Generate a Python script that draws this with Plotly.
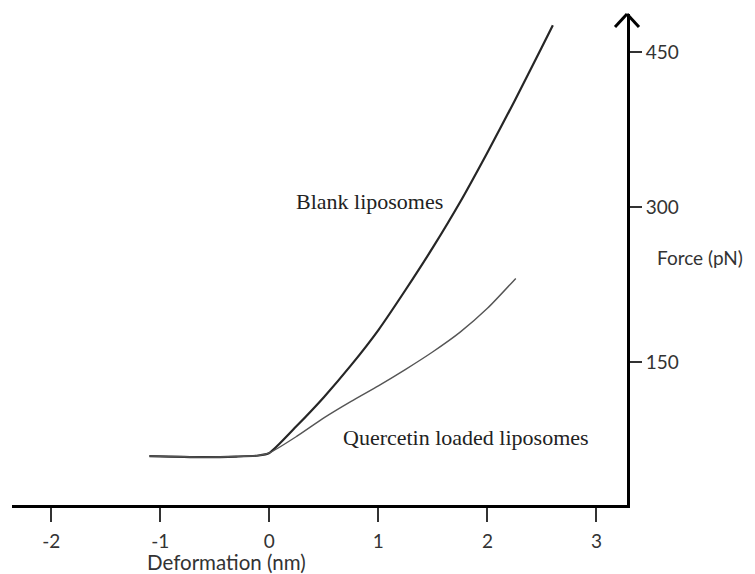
import plotly.graph_objects as go

# Data
blank_x = [-1.10, -0.62, -0.30, -0.10, 0.00, 0.25, 0.50, 0.75, 1.00, 1.25, 1.50, 1.75, 2.00, 2.25, 2.50, 2.60]
blank_y = [59, 58, 58.5, 59.5, 62, 88, 116, 147, 181, 220, 261, 305, 353, 403, 455, 476]

querc_x = [-1.10, -0.62, -0.30, -0.10, 0.00, 0.25, 0.50, 0.75, 1.00, 1.25, 1.50, 1.75, 2.00, 2.26]
querc_y = [59, 58, 58.5, 59.5, 62, 78, 96, 112, 127, 143, 160, 179, 202, 231]

x_ticks = [-2, -1, 0, 1, 2, 3]
y_ticks = [150, 300, 450]

SANS = "Lato"
SERIF = "Liberation Serif"

fig = go.Figure()
fig.add_trace(go.Scatter(x=blank_x, y=blank_y, mode="lines",
                         line=dict(color="#262626", width=2.2, shape="spline", smoothing=0.6),
                         showlegend=False))
fig.add_trace(go.Scatter(x=querc_x, y=querc_y, mode="lines",
                         line=dict(color="#555555", width=1.4, shape="spline", smoothing=0.6),
                         showlegend=False))

fig.update_layout(
    width=755, height=574,
    margin=dict(l=4, r=136, t=6, b=77),
    plot_bgcolor="white", paper_bgcolor="white",
    xaxis=dict(range=[-2.36, 3.28], tickvals=x_ticks, ticktext=[str(v) for v in x_ticks],
               showgrid=False, zeroline=False, showline=True, linecolor="black", linewidth=3,
               ticks="outside", ticklen=14, tickwidth=1.5, tickcolor="#333",
               ticklabelstandoff=3,
               tickfont=dict(family=SANS, size=19, color="#333")),
    yaxis=dict(range=[11.6, 487], tickvals=y_ticks, ticktext=[str(v) for v in y_ticks],
               side="right", showgrid=False, zeroline=False, showline=True,
               linecolor="black", linewidth=3,
               ticks="outside", ticklen=12, tickwidth=1.5, tickcolor="#333",
               tickfont=dict(family=SANS, size=19, color="#333")),
    annotations=[
        dict(x=0.914, y=305, xref="x", yref="y", text="Blank liposomes", showarrow=False,
             font=dict(family=SERIF, size=22, color="#222")),
        dict(x=1.80, y=76.5, xref="x", yref="y", text="Quercetin loaded liposomes", showarrow=False,
             font=dict(family=SERIF, size=22, color="#222")),
        dict(x=1.119, y=0.505, xref="paper", yref="paper", text="Force (pN)", showarrow=False,
             xanchor="center", yanchor="middle",
             font=dict(family=SANS, size=19, color="#333")),
        dict(x=0.348, y=-0.116, xref="paper", yref="paper", text="Deformation (nm)", showarrow=False,
             xanchor="center", yanchor="middle",
             font=dict(family=SANS, size=20.5, color="#333")),
    ],
    shapes=[
        dict(type="line", xref="paper", yref="paper", x0=0.9805, y0=0.9735, x1=1.0, y1=1.0,
             line=dict(color="black", width=3)),
        dict(type="line", xref="paper", yref="paper", x0=1.0195, y0=0.9735, x1=1.0, y1=1.0,
             line=dict(color="black", width=3)),
    ],
)

fig.write_html("out.html")
